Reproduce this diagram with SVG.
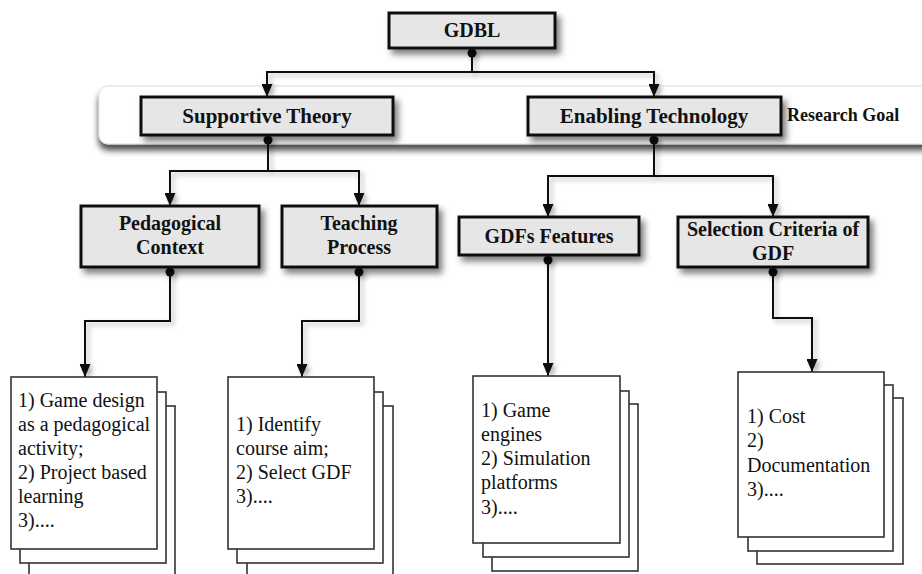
<svg xmlns="http://www.w3.org/2000/svg" width="922" height="574" viewBox="0 0 922 574">
<defs>
<style>
.node rect{fill:#e6e6e6;stroke:#111;stroke-width:3;}
.lbl{font-weight:bold;font-size:20px;fill:#111;text-anchor:middle;}
.big{font-size:21px;}
.goal{font-weight:bold;font-size:18px;fill:#111;}
.page{fill:#fff;stroke:#333;stroke-width:1.6;}
.txt{font-size:20px;fill:#111;}
.conn path{fill:none;stroke:#111;stroke-width:2;}
.conn circle{fill:#111;}
</style>
<filter id="sh" filterUnits="userSpaceOnUse" x="0" y="0" width="922" height="574"><feDropShadow dx="4" dy="5" stdDeviation="3" flood-color="#000" flood-opacity="0.5"/></filter>
<filter id="csh" filterUnits="userSpaceOnUse" x="0" y="0" width="922" height="574"><feDropShadow dx="3" dy="3" stdDeviation="2.5" flood-color="#000" flood-opacity="0.3"/></filter>
<filter id="bsh" filterUnits="userSpaceOnUse" x="0" y="0" width="922" height="574"><feDropShadow dx="0" dy="6" stdDeviation="3" flood-color="#000" flood-opacity="0.7"/></filter>
<marker id="arr" markerUnits="userSpaceOnUse" markerWidth="13" markerHeight="11" refX="13" refY="5.5" orient="auto"><path d="M0,0 L13,5.5 L0,11 z" fill="#111"/></marker>
</defs>

<g font-family="'Liberation Serif', 'DejaVu Serif', serif">
<g id="band">
<rect x="99" y="86" width="860" height="58" rx="9" fill="#fff" stroke="#ddd" stroke-width="1" filter="url(#bsh)"/>
<text class="goal" x="787" y="121">Research Goal</text>
</g>

<g id="connectors" class="conn" filter="url(#csh)">
<path d="M472,53 V72 H267 V97" marker-end="url(#arr)"/>
<path d="M472,72 H654 V97" marker-end="url(#arr)"/>
<path d="M268,140 V171 H170 V206" marker-end="url(#arr)"/>
<path d="M268,171 H359 V206" marker-end="url(#arr)"/>
<path d="M654,140 V176 H548 V217" marker-end="url(#arr)"/>
<path d="M654,176 H773 V217" marker-end="url(#arr)"/>
<path d="M170,272 V321 H85 V377" marker-end="url(#arr)"/>
<path d="M359,272 V321 H302 V377" marker-end="url(#arr)"/>
<path d="M548,260 V376" marker-end="url(#arr)"/>
<path d="M773,272 V318 H812 V372" marker-end="url(#arr)"/>
<circle cx="472" cy="53" r="4.5"/>
<circle cx="268" cy="140" r="4.5"/>
<circle cx="654" cy="140" r="4.5"/>
<circle cx="170" cy="272" r="4.5"/>
<circle cx="359" cy="272" r="4.5"/>
<circle cx="548" cy="260" r="4.5"/>
<circle cx="773" cy="272" r="4.5"/>
</g>

<g id="gdbl" class="node"><rect x="389" y="13" width="166" height="35" filter="url(#sh)"/><text class="lbl" x="472" y="37">GDBL</text></g>
<g id="supportive" class="node"><rect x="141" y="97" width="252" height="38" filter="url(#sh)"/><text class="lbl big" x="267" y="123">Supportive Theory</text></g>
<g id="enabling" class="node"><rect x="528" y="97" width="253" height="38" filter="url(#sh)"/><text class="lbl big" x="654" y="123">Enabling Technology</text></g>
<g id="pedagogical" class="node"><rect x="81" y="206" width="178" height="61" filter="url(#sh)"/><text class="lbl" x="170" y="230">Pedagogical</text><text class="lbl" x="170" y="254">Context</text></g>
<g id="teaching" class="node"><rect x="282" y="206" width="155" height="61" filter="url(#sh)"/><text class="lbl" x="359" y="230">Teaching</text><text class="lbl" x="359" y="254">Process</text></g>
<g id="gdfs" class="node"><rect x="459" y="217" width="180" height="38" filter="url(#sh)"/><text class="lbl" x="549" y="243">GDFs Features</text></g>
<g id="selection" class="node"><rect x="678" y="217" width="190" height="50" filter="url(#sh)"/><text class="lbl" x="773" y="236">Selection Criteria of</text><text class="lbl" x="773" y="260">GDF</text></g>

<g id="list-pedagogical">
<rect class="page" x="29" y="406" width="146" height="180"/>
<rect class="page" x="20" y="392" width="146" height="171"/>
<rect class="page" x="11" y="377" width="146" height="172"/>
<text class="txt" x="18" y="407">1) Game design</text>
<text class="txt" x="18" y="431">as a pedagogical</text>
<text class="txt" x="18" y="455">activity;</text>
<text class="txt" x="18" y="479">2) Project based</text>
<text class="txt" x="18" y="503">learning</text>
<text class="txt" x="18" y="527">3)....</text>
</g>

<g id="list-teaching">
<rect class="page" x="247" y="406" width="146" height="180"/>
<rect class="page" x="237" y="392" width="146" height="171"/>
<rect class="page" x="228" y="377" width="146" height="172"/>
<text class="txt" x="236" y="431">1) Identify</text>
<text class="txt" x="236" y="455">course aim;</text>
<text class="txt" x="236" y="479">2) Select GDF</text>
<text class="txt" x="236" y="503">3)....</text>
</g>

<g id="list-gdfs">
<rect class="page" x="492" y="404" width="146" height="167"/>
<rect class="page" x="483" y="391" width="146" height="166"/>
<rect class="page" x="473" y="376" width="147" height="167"/>
<text class="txt" x="481" y="417">1) Game</text>
<text class="txt" x="481" y="441">engines</text>
<text class="txt" x="481" y="465">2) Simulation</text>
<text class="txt" x="481" y="489">platforms</text>
<text class="txt" x="481" y="514">3)....</text>
</g>

<g id="list-selection">
<rect class="page" x="757" y="398" width="146" height="166"/>
<rect class="page" x="748" y="385" width="145" height="166"/>
<rect class="page" x="738" y="372" width="146" height="165"/>
<text class="txt" x="747" y="423">1) Cost</text>
<text class="txt" x="747" y="447">2)</text>
<text class="txt" x="747" y="472">Documentation</text>
<text class="txt" x="747" y="496">3)....</text>
</g>
</g>
</svg>
